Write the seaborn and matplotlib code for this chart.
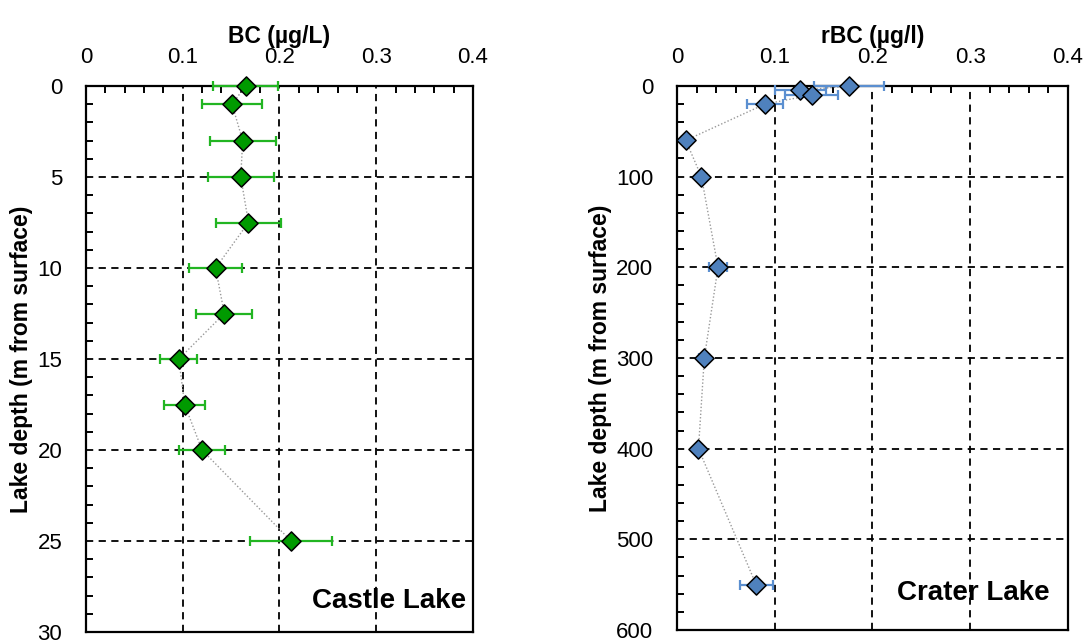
import matplotlib
matplotlib.use("Agg")
import matplotlib.pyplot as plt
import seaborn as sns
import pandas as pd
from matplotlib.ticker import MultipleLocator, FuncFormatter

# Castle Lake profile: depth (m), BC concentration (µg/L) and its uncertainty
castle_depth = [0, 1, 3, 5, 7.5, 10, 12.5, 15, 17.5, 20, 25]
castle_bc = [0.165, 0.151, 0.162, 0.160, 0.168, 0.134, 0.143, 0.096, 0.102, 0.120, 0.212]
castle_err = [0.034, 0.031, 0.034, 0.034, 0.034, 0.027, 0.029, 0.019, 0.021, 0.024, 0.042]

# Crater Lake profile: depth (m), rBC concentration (µg/l) and its uncertainty
crater_depth = [0, 5, 10, 20, 60, 100, 200, 300, 400, 550]
crater_rbc = [0.176, 0.126, 0.138, 0.090, 0.009, 0.025, 0.042, 0.028, 0.022, 0.081]
crater_err = [0.036, 0.026, 0.027, 0.018, 0.004, 0.005, 0.009, 0.005, 0.004, 0.017]

sns.set_theme(style="white")
plt.rcParams["font.family"] = ["Liberation Sans", "DejaVu Sans"]
plt.rcParams["text.color"] = "black"
plt.rcParams["axes.labelcolor"] = "black"

fig = plt.figure(figsize=(10.88, 6.41), dpi=100)
ax_castle = fig.add_axes([0.0790, 0.0140, 0.3557, 0.8518])
ax_crater = fig.add_axes([0.6222, 0.0172, 0.3594, 0.8487])


def draw_profile(ax, depth, conc, err, face, bar_color, xlabel, ymax,
                 ymajor, yminor, name, name_pos):
    df = pd.DataFrame({"conc": conc, "depth": depth})
    sns.lineplot(data=df, x="conc", y="depth", sort=False, estimator=None,
                 color="#999999", linestyle=(0, (1, 1.5)), linewidth=1.0,
                 ax=ax, zorder=3)
    eb = ax.errorbar(conc, depth, xerr=err, fmt="none", ecolor=bar_color,
                     elinewidth=1.6, capsize=3.5, capthick=1.6, zorder=4)
    for part in eb.lines:
        for artist in (part if isinstance(part, tuple) else [part]):
            if artist is not None:
                artist.set_clip_on(False)
    sns.scatterplot(data=df, x="conc", y="depth", marker="D", s=95,
                    color=face, edgecolor="black", linewidth=1.1,
                    ax=ax, zorder=5, clip_on=False)

    ax.set_xlim(0, 0.4)
    ax.set_ylim(ymax, 0)
    ax.xaxis.set_major_locator(MultipleLocator(0.1))
    ax.xaxis.set_minor_locator(MultipleLocator(0.02))
    ax.yaxis.set_major_locator(MultipleLocator(ymajor))
    ax.yaxis.set_minor_locator(MultipleLocator(yminor))
    ax.xaxis.tick_top()
    ax.xaxis.set_label_position("top")
    ax.xaxis.set_major_formatter(FuncFormatter(lambda v, p: f"{v:g}"))

    ax.tick_params(axis="both", which="both", direction="in",
                   labelsize=16, colors="black", width=1.4)
    ax.tick_params(axis="x", which="major", length=0, pad=13)
    ax.tick_params(axis="y", which="major", length=0, pad=17)
    ax.tick_params(axis="both", which="minor", length=5)
    ax.tick_params(axis="x", which="both", top=True, bottom=False)
    ax.tick_params(axis="y", which="both", left=True, right=False)

    ax.grid(True, which="major", color="black", linestyle=(0, (4, 3)),
            linewidth=1.3)
    ax.set_axisbelow(True)
    for sp in ax.spines.values():
        sp.set_visible(True)
        sp.set_color("black")
        sp.set_linewidth(1.6)
        sp.set_zorder(3.5)

    ax.set_xlabel(xlabel, fontsize=16.5, fontweight="bold", labelpad=3,
                  color="black")
    ax.set_ylabel("Lake depth (m from surface)", fontsize=16.5,
                  fontweight="bold", labelpad=3, color="black")
    ax.text(name_pos[0], name_pos[1], name, transform=ax.transAxes,
            ha="right", va="baseline", fontsize=20, fontweight="bold",
            color="black", zorder=7)


draw_profile(ax_castle, castle_depth, castle_bc, castle_err,
             "#009a00", "#22b522", "BC (µg/L)", 30, 5, 1,
             "Castle Lake", (0.982, 0.044))
draw_profile(ax_crater, crater_depth, crater_rbc, crater_err,
             "#4f81bd", "#5b8fd0", "rBC (µg/l)", 600, 100, 20,
             "Crater Lake", (0.954, 0.055))

fig.savefig("out.png", dpi=100)
